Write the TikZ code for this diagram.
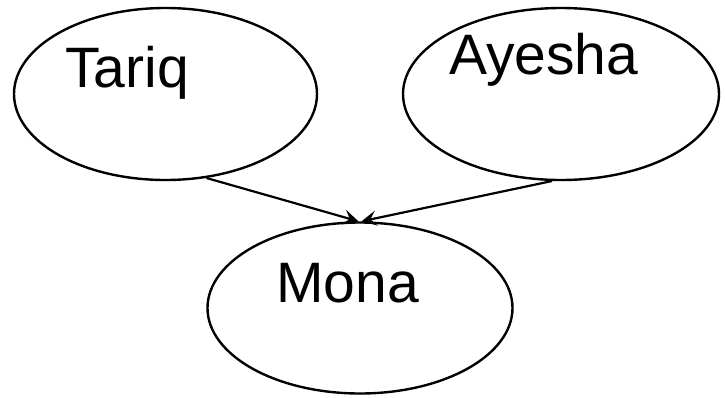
\documentclass[tikz,border=0pt]{standalone}
\usepackage{fontspec}
\setmainfont{Liberation Sans}
\usetikzlibrary{shapes.geometric,arrows.meta}
\begin{document}
\begin{tikzpicture}[x=1pt,y=-1pt,
  person/.style={ellipse,draw,line width=2.4pt,inner sep=0pt},
  persname/.style={anchor=base west,inner sep=0pt,font=\fontsize{57}{60}\selectfont},
  link/.style={line width=2.2pt,-{Stealth[length=15pt,width=15pt,inset=6pt]}}]
  \useasboundingbox (0,0) rectangle (725,397);
  % people
  \node[person,minimum width=303pt,minimum height=172pt] (tariq) at (165.5,94) {};
  \node[person,minimum width=316pt,minimum height=172pt] (ayesha) at (561,94) {};
  \node[person,minimum width=305pt,minimum height=171pt] (mona) at (360,308) {};
  % names
  \node[persname] (tariqname) at (65,87) {Tariq};
  \node[persname] (ayeshaname) at (449,74) {Ayesha};
  \node[persname] (monaname) at (276,302) {Mona};
  % relations
  \draw[link] (tariq.-64) -- (mona.91);
  \draw[link] (ayesha.-96) -- (mona.89);
\end{tikzpicture}
\end{document}
